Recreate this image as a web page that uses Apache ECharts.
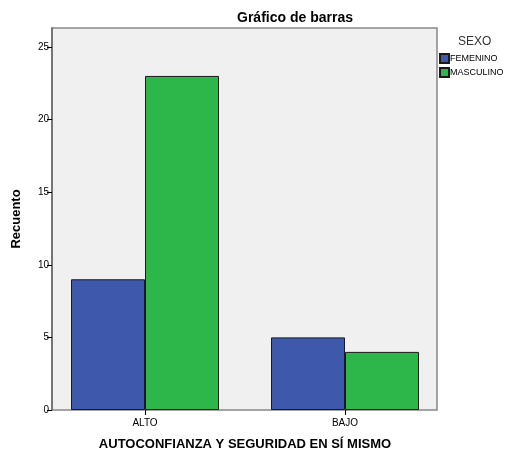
<!DOCTYPE html>
<html><head><meta charset="utf-8">
<script src="https://cdn.jsdelivr.net/npm/echarts@6/dist/echarts.min.js"></script>
<style>html,body{margin:0;padding:0;background:#fff}#c{width:506px;height:452px}</style>
</head><body><div id="c"></div>
<script>
const categories = ['ALTO', 'BAJO'];
const seriesNames = ['FEMENINO', 'MASCULINO'];
const femenino = [9, 5];
const masculino = [23, 4];
const yTicks = [0, 5, 10, 15, 20, 25];

const chart = echarts.init(document.getElementById('c'));
const font = 'Arial, "Liberation Sans", sans-serif';
chart.setOption({
  animation: false,
  title: { text: 'Gráfico de barras', left: 290, top: 6, textAlign: 'center',
    textStyle: { fontFamily: font, fontSize: 14, fontWeight: 'bold', color: '#000' } },
  legend: {
    data: seriesNames, orient: 'vertical', left: 439, top: 53, padding: 0, itemWidth: 9, itemHeight: 9, itemGap: 3,
    icon: 'rect', textStyle: { fontFamily: font, fontSize: 9, color: '#000', padding: [0,0,0,-4] }
  },
  graphic: [{ type: 'text', left: 458, top: 36, style: { text: 'SEXO', font: '12px ' + font, fill: '#333' } }],
  grid: [
    { left: 52, right: 69, top: 28, bottom: 42, show: true, backgroundColor: '#f0f0f0', borderColor: '#888', borderWidth: 1.5, outerBoundsMode: 'none', containLabel: false },
    { left: 45, width: 400, top: 28, bottom: 42, outerBoundsMode: 'none', containLabel: false }
  ],
  xAxis: [
    { gridIndex: 0, type: 'value', min: 0, max: 1, show: false },
    { gridIndex: 1, type: 'category', data: categories,
      axisLine: { show: false }, axisTick: { show: true, alignWithLabel: true, length: 5, lineStyle: { color: '#000' } },
      axisLabel: { fontFamily: font, fontSize: 10, color: '#000', margin: 8 },
      name: 'AUTOCONFIANZA Y SEGURIDAD EN SÍ MISMO', nameLocation: 'middle', nameGap: 28,
      nameTextStyle: { fontFamily: font, fontSize: 13, fontWeight: 'bold', color: '#000' } }
  ],
  yAxis: [
    { gridIndex: 0, type: 'value', min: 0, max: 26.3, interval: 5,
      axisLine: { show: true, lineStyle: { color: '#666', width: 1.5 } },
      axisTick: { show: true, length: 5, lineStyle: { color: '#000' } },
      axisLabel: { fontFamily: font, fontSize: 10, color: '#000', margin: 3, showMaxLabel: false,
        formatter: v => yTicks.includes(v) ? String(v) : '' },
      splitLine: { show: false },
      name: 'Recuento', nameLocation: 'middle', nameGap: 29, nameRotate: 90,
      nameTextStyle: { fontFamily: font, fontSize: 13, fontWeight: 'bold', color: '#000' } },
    { gridIndex: 1, type: 'value', min: 0, max: 26.3, show: false }
  ],
  series: [
    { name: seriesNames[0], type: 'bar', xAxisIndex: 1, yAxisIndex: 1, data: femenino,
      barGap: '0%', barCategoryGap: '26%', itemStyle: { color: '#3e58ab', borderColor: '#1a1a1a', borderWidth: 1 } },
    { name: seriesNames[1], type: 'bar', xAxisIndex: 1, yAxisIndex: 1, data: masculino,
      barGap: '0%', barCategoryGap: '26%', itemStyle: { color: '#2db64a', borderColor: '#1a1a1a', borderWidth: 1 } }
  ]
});
</script></body></html>
